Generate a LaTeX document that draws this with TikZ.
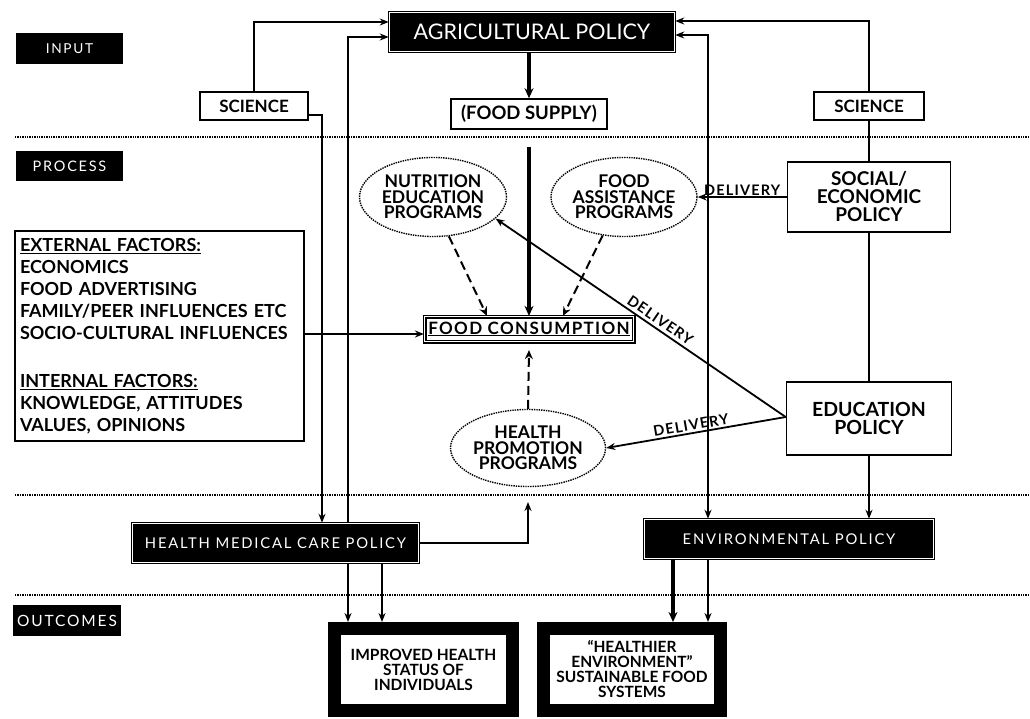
\documentclass[tikz,border=0pt]{standalone}
\usepackage{fontspec}
\setmainfont{Lato}
\newfontfamily\spaced[LetterSpace=12]{Lato}
\newfontfamily\delfont[LetterSpace=8]{Lato}
\usetikzlibrary{arrows.meta,shapes.geometric}
\begin{document}
\begin{tikzpicture}[x=1pt,y=-1pt,
  stagebox/.style={fill=black, text=white, inner sep=0pt},
  blackbox/.style={draw=black, line width=1.5pt, double=white, double distance=0.9pt, fill=black, text=white, inner sep=0pt},
  whitebox/.style={draw=black, line width=1.6pt, fill=white, inner sep=0pt, align=center, font=\bfseries\fontsize{17}{16}\selectfont},
  prog/.style={ellipse, draw=black, densely dotted, line width=1.4pt, inner sep=0pt, align=center, font=\bfseries\fontsize{17.5}{15.5}\selectfont},
  outbox/.style={draw=black, line width=13pt, fill=white, inner sep=0pt, align=center, font=\bfseries\fontsize{15.5}{15}\selectfont},
  sep/.style={densely dotted, line width=1.4pt},
  conn/.style={line width=1.8pt},
  arr/.style={conn, -{Stealth[length=9pt,width=7pt]}},
  biarr/.style={conn, {Stealth[length=9pt,width=7pt]}-{Stealth[length=9pt,width=7pt]}},
  thickarr/.style={line width=3.3pt, -{Stealth[length=10pt,width=9pt]}},
  dasharr/.style={line width=2pt, dash pattern=on 9pt off 5pt, -{Stealth[length=9pt,width=8pt]}},
  lbl/.style={font=\delfont\bfseries\fontsize{14.5}{14.5}\selectfont, inner sep=1pt}
]
\fill[white] (0,0) rectangle (1030,719);
\useasboundingbox (0,0) rectangle (1030,719);

% separators
\draw[sep] (15,137) -- (1030,137);
\draw[sep] (15,495) -- (1030,495);
\draw[sep] (15,595) -- (1030,595);

% stage labels
\node[stagebox, minimum width=107, minimum height=31] (input) at (69.5,48.5) {\spaced\fontsize{13.7}{13.7}\selectfont INPUT};
\node[stagebox, minimum width=107, minimum height=30] (process) at (69.5,166.5) {\spaced\fontsize{14.5}{14.5}\selectfont PROCESS};
\node[stagebox, minimum width=108, minimum height=31] (outcomes) at (67,620.5) {\spaced\fontsize{15.5}{15.5}\selectfont OUTCOMES};

% column coordinates
\coordinate (cA) at (322,0);
\coordinate (cB) at (348,0);
\coordinate (cC) at (382,0);
\coordinate (cE) at (673,0);
\coordinate (cD) at (708,0);
\coordinate (extY) at (0,334);

% nodes
\node[blackbox, minimum width=285, minimum height=39] (ag) at (532,32) {\fontsize{21.5}{21.5}\selectfont AGRICULTURAL POLICY};
\node[whitebox, minimum width=108, minimum height=28] (sciL) at (254,106) {SCIENCE};
\node[whitebox, minimum width=110, minimum height=28] (sciR) at (869,106) {SCIENCE};
\node[whitebox, minimum width=156, minimum height=30, font=\bfseries\fontsize{18.5}{18.5}\selectfont] (foodsup) at (529,114) {(FOOD SUPPLY)};
\node[prog, minimum width=147, minimum height=79] (nut) at (433,197) {NUTRITION\\EDUCATION\\PROGRAMS};
\node[prog, minimum width=146, minimum height=79] (fa) at (624,197) {FOOD\\ASSISTANCE\\PROGRAMS};
\node[whitebox, minimum width=163, minimum height=70, font=\bfseries\fontsize{19}{18}\selectfont] (soc) at (869,197) {SOCIAL/\\ECONOMIC\\POLICY};
\node[whitebox, minimum width=289, minimum height=210, align=left, text width=279, inner xsep=5pt,
      font=\bfseries\fontsize{18}{22}\selectfont] (ext) at (159.5,336)
  {\underline{EXTERNAL FACTORS:}\\
   ECONOMICS\\
   FOOD ADVERTISING\\
   FAMILY/PEER INFLUENCES ETC\\
   SOCIO-CULTURAL INFLUENCES\\[26pt]
   \underline{INTERNAL FACTORS:}\\
   KNOWLEDGE, ATTITUDES\\
   VALUES, OPINIONS};
\node[whitebox, draw=black, line width=1.2pt, double=white, double distance=1.6pt, minimum width=209, minimum height=25,
      font=\delfont\bfseries\fontsize{17}{17}\selectfont] (fc) at (529,329) {\underline{FOOD CONSUMPTION}};
\node[prog, minimum width=148, minimum height=77] (hp) at (528,448) {HEALTH\\PROMOTION\\PROGRAMS};
\node[whitebox, minimum width=165, minimum height=73, font=\bfseries\fontsize{19.5}{18}\selectfont] (edu) at (869,418.5) {EDUCATION\\POLICY};
\node[blackbox, minimum width=286, minimum height=39] (hmcp) at (275.5,543) {\spaced\fontsize{14.8}{14.8}\selectfont HEALTH MEDICAL CARE POLICY};
\node[blackbox, minimum width=289, minimum height=39] (env) at (789,539) {\spaced\fontsize{14.8}{14.8}\selectfont ENVIRONMENTAL POLICY};
\node[outbox, minimum width=178, minimum height=82] (imp) at (423.5,669.5) {IMPROVED HEALTH\\STATUS OF\\INDIVIDUALS};
\node[outbox, minimum width=177, minimum height=82] (hea) at (632,669.5) {``HEALTHIER\\ENVIRONMENT''\\SUSTAINABLE FOOD\\SYSTEMS};

% free ends
\coordinate (fsB) at (529,147);
\coordinate (hpB) at (528,502);

% connectors: top
\draw[arr] (sciL.north) |- ([yshift=10pt]ag.west);
\draw[arr] (hmcp.north -| cB) |- ([yshift=-5pt]ag.west);
\draw[arr] ([yshift=-9pt]sciL.east) -| (hmcp.north -| cA);
\draw[arr] (sciR.north) |- ([yshift=11pt]ag.east);
\draw[biarr] (env.north -| cD) |- ([yshift=-3pt]ag.east);
\draw[conn] (sciR.south) -- (soc.north);
\draw[conn] (soc.south) -- (edu.north);
\draw[arr] (edu.south) -- (env.north -| edu.south);

% food chain
\draw[thickarr] (ag.south -| foodsup.north) -- (foodsup.north);
\draw[thickarr] (fsB) -- (fc.north -| fsB);
\draw[dasharr] (nut.-68) -- ([xshift=-42pt]fc.north);
\draw[dasharr] (fa.-119) -- ([xshift=34pt]fc.north);
\draw[dasharr] (hp.north) -- ([yshift=-8pt]fc.south);
\draw[arr] (ext.east |- extY) -- (fc.west |- extY);
\draw[arr] (hmcp.east) -| (hpB);

% delivery
\draw[arr] (soc.west) -- node[lbl, above=0pt] {DELIVERY} (fa.east);
\draw[arr] ([yshift=1.5pt]edu.west) -- node[lbl, sloped, above=2pt, pos=0.45] {DELIVERY} (nut.-19);
\draw[arr] ([yshift=1.5pt]edu.west) -- node[lbl, sloped, above=1pt, pos=0.52] {DELIVERY} (hp.east);

% outcomes
\draw[arr] (hmcp.south -| cB) -- (imp.north -| cB);
\draw[arr] (hmcp.south -| cC) -- (imp.north -| cC);
\draw[thickarr] (env.south -| cE) -- (hea.north -| cE);
\draw[arr] (env.south -| cD) -- (hea.north -| cD);
\end{tikzpicture}
\end{document}
